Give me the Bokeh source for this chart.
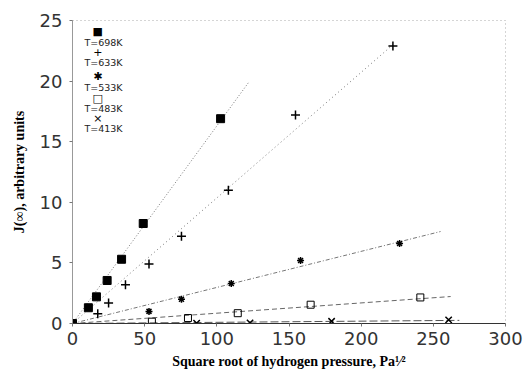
from bokeh.plotting import figure
from bokeh.models import Range1d, Label, FixedTicker
from bokeh.embed import file_html
from bokeh.resources import INLINE
import numpy as np

# Data (sqrt pressure, J(inf))
x698 = [0, 11, 16.6, 24, 34, 49, 102.6]
y698 = [0, 1.3, 2.2, 3.55, 5.3, 8.25, 16.9]
x633 = [0, 17.5, 25, 36.7, 53, 75.5, 108, 154.5, 222]
y633 = [0, 0.8, 1.7, 3.2, 4.9, 7.2, 11.0, 17.2, 22.9]
x533 = [0, 53, 75.5, 110, 158, 226.6]
y533 = [0, 1.0, 2.0, 3.3, 5.2, 6.6]
x483 = [0, 55, 80, 114.5, 165, 241]
y483 = [0, 0.15, 0.45, 0.85, 1.55, 2.15]
x413 = [0, 86, 123, 179.5, 260.6]
y413 = [0, 0.02, 0.05, 0.18, 0.3]

series_labels = ["T=698K", "T=633K", "T=533K", "T=483K", "T=413K"]
fit_end = [122, 222, 255, 262, 268]

x_ticks = [0, 50, 100, 150, 200, 250, 300]
y_ticks = [0, 5, 10, 15, 20, 25]

p = figure(width=532, height=377, output_backend="svg", toolbar_location=None,
           x_range=Range1d(0, 300), y_range=Range1d(0, 25),
           min_border_left=72, min_border_right=27, min_border_top=20, min_border_bottom=54)
p.xgrid.visible = False
p.ygrid.visible = False
p.background_fill_color = "white"
p.border_fill_color = "white"
p.outline_line_color = "#aaaaaa"
p.outline_line_dash = "1 3"
p.outline_line_width = 1

# fit lines through origin
styles = [("1 2", "#777777"), ("1 3", "#777777"), ("4 2 1 2", "#777777"),
          ("5 3", "#666666"), ("8 3", "#555555")]
data = [(x698, y698), (x633, y633), (x533, y533), (x483, y483), (x413, y413)]
for (xs, ys), xe, (dash, col) in zip(data, fit_end, styles):
    xa = np.array(xs, float); ya = np.array(ys, float)
    k = (xa * ya).sum() / (xa * xa).sum()
    p.line([0, xe], [0, k * xe], line_color=col, line_dash=dash, line_width=1)

p.scatter(x698, y698, marker="square", size=8, fill_color="black", line_color="black")
p.scatter(x633, y633, marker="cross", size=9, line_color="black", line_width=1.5)
p.scatter(x533, y533, marker="asterisk", size=7, line_color="black", line_width=1.5)
p.scatter(x483, y483, marker="square", size=7, fill_color=None, line_color="black", line_width=1)
p.scatter(x413, y413, marker="x", size=9, line_color="black", line_width=1.5)

# legend (symbol above label)
symbols = ["\u25A0", "+", "\u2731", "\u25A1", "\u00D7"]
sym_y = [24.1, 22.4, 20.35, 18.6, 16.95]
for s, lab, yy in zip(symbols, series_labels, sym_y):
    p.add_layout(Label(x=17.5, y=yy, text=s, text_align="center", text_baseline="middle",
                       text_font_size="11px", text_font="DejaVu Sans", text_color="black"))
    p.add_layout(Label(x=21.5, y=yy - 0.9, text=lab, text_align="center", text_baseline="middle",
                       text_font_size="9.5px", text_font="DejaVu Sans", text_color="#222222"))

for ax in (p.xaxis[0], p.yaxis[0]):
    ax.major_label_text_font = "DejaVu Sans"
    ax.major_label_text_font_size = "18px"
    ax.major_label_text_color = "#333333"
    ax.axis_label_text_font = "Liberation Serif"
    ax.axis_label_text_font_style = "bold"
    ax.axis_label_text_font_size = "14px"
    ax.axis_label_text_color = "black"
    ax.minor_tick_line_color = None
    ax.major_tick_in = 0
    ax.major_tick_out = 3
    ax.major_tick_line_color = "#777777"

p.xaxis.ticker = FixedTicker(ticks=x_ticks)
p.yaxis.ticker = FixedTicker(ticks=y_ticks)
p.xaxis.axis_line_color = "#333333"
p.yaxis.axis_line_color = "#999999"
p.xaxis.major_label_standoff = 5
p.yaxis.major_label_standoff = 7
p.xaxis.axis_label = "Square root of hydrogen pressure, Pa\u00B9\u2044\u00B2"
p.yaxis.axis_label = "J(\u221E), arbitrary units"
p.xaxis.axis_label_standoff = 6
p.yaxis.axis_label_standoff = 10

open("out.html", "w").write(file_html(p, INLINE))
